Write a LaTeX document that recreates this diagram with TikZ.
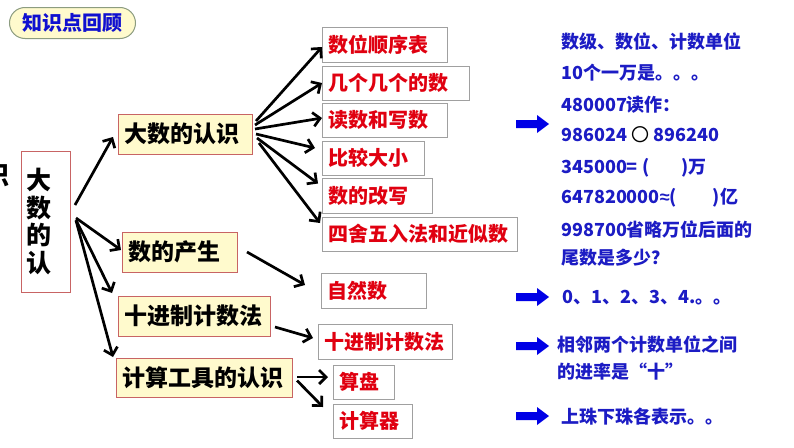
\documentclass[tikz,border=0pt]{standalone}
\usepackage{fontspec}
\setmainfont{Noto Sans CJK SC}[BoldFont={* Black}]
\newfontfamily\latfont{Liberation Sans}
\usetikzlibrary{arrows.meta}
\definecolor{cream}{HTML}{FFFACD}
\definecolor{boxred}{HTML}{C86464}
\definecolor{boxgray}{HTML}{A0A0A0}
\definecolor{redtxt}{HTML}{E00010}
\definecolor{bluetxt}{HTML}{1C1CC4}
\definecolor{arrowblue}{HTML}{0000E6}
\definecolor{titleblue}{HTML}{1010D0}
\definecolor{pillgray}{HTML}{8C9C80}
\tikzset{
  ybox/.style={draw=boxred, fill=cream, line width=0.8pt, text=black,
    font=\bfseries\fontsize{23}{25}\selectfont, inner xsep=6pt, inner ysep=0pt,
    outer sep=0pt, anchor=north west, align=left},
  rbox/.style={draw=boxgray, fill=white, line width=0.8pt, text=redtxt,
    font=\bfseries\fontsize{20}{22}\selectfont, inner xsep=6pt, inner ysep=0pt,
    outer sep=0pt, anchor=north west, align=left},
  arr/.style={line width=2.7pt, draw=black, -{Straight Barb[length=7pt,width=14pt,line width=2.7pt]}},
  btxt/.style={anchor=west, text=bluetxt, font=\bfseries\fontsize{18}{20}\selectfont, inner sep=0pt},
  blockarrow/.pic={\fill[arrowblue] (0,-4) -- (21,-4) -- (21,-9) -- (33,0) -- (21,9) -- (21,4) -- (0,4) -- cycle;}
}
\begin{document}
\begin{tikzpicture}[x=1pt,y=-1pt]
\useasboundingbox (0,0) rectangle (794,447);
\clip (0,0) rectangle (794,447);
\fill[white] (0,0) rectangle (794,447);

% title pill
\node[draw=pillgray, fill=cream, line width=1pt, rounded corners=15.5pt,
  minimum width=126pt, minimum height=31pt, anchor=north west, inner sep=0pt,
  text=titleblue, font=\bfseries\fontsize{20}{22}\selectfont] (title) at (9,7) {知识点回顾};

% clipped character at left edge
\node[font=\bfseries\fontsize{25}{27}\selectfont, inner sep=0pt] (cut) at (-3,175) {识};

% big vertical box
\node[draw=boxred, fill=white, line width=0.8pt, anchor=north west, outer sep=0pt,
  minimum height=141pt, text width=37pt, inner xsep=6pt, inner ysep=0pt, align=left,
  font=\bfseries\fontsize{25}{27.5}\selectfont] (big) at (21,151) {大\\数\\的\\认};

% yellow boxes
\node[ybox, text width=122pt, minimum height=40pt] (dsr) at (118,114) {大数的认识};
\node[ybox, text width=103pt, minimum height=40pt] (dcs) at (122,232) {数的产生};
\node[ybox, text width=140pt, minimum height=40pt] (sj) at (118,296) {十进制计数法};
\node[ybox, text width=164pt, minimum height=39pt] (js) at (116,358) {计算工具的认识};

% red boxes
\node[rbox, text width=113pt, minimum height=35pt] (r1) at (322,27) {数位顺序表};
\node[rbox, text width=135pt, minimum height=34pt] (r2) at (322,66) {几个几个的数};
\node[rbox, text width=113pt, minimum height=34pt] (r3) at (322,103) {读数和写数};
\node[rbox, text width=90pt, minimum height=34pt] (r4) at (322,141) {比较大小};
\node[rbox, text width=98pt, minimum height=35pt] (r5) at (322,178) {数的改写};
\node[rbox, text width=183pt, minimum height=34pt] (r6) at (322,217) {四舍五入法和近似数};
\node[rbox, text width=93pt, minimum height=35pt] (zrs) at (321,273) {自然数};
\node[rbox, text width=122pt, minimum height=35pt] (sjr) at (318,324) {十进制计数法};
\node[rbox, text width=49pt, minimum height=34pt] (sp) at (333,365) {算盘};
\node[rbox, text width=67pt, minimum height=34pt] (jsq) at (333,404) {计算器};

% arrows from big box
\draw[arr] ([xshift=5pt,yshift=16.5pt]big.east) -- ([xshift=-5pt,yshift=-3pt]dsr.west);
\draw[arr] ([xshift=6pt,yshift=3.5pt]big.east) -- ([xshift=-1pt,yshift=2pt]dcs.west);
\draw[arr] ([xshift=6pt,yshift=1.5pt]big.east) -- ([xshift=-6pt,yshift=3pt]sj.north west);
\draw[arr] ([xshift=6pt,yshift=1pt]big.east) -- ([xshift=-3pt,yshift=1pt]js.north west);

% arrows from 大数的认识
\draw[arr] ([xshift=4pt,yshift=13pt]dsr.east) -- ([yshift=-2.5pt]r1.west);
\draw[arr] ([xshift=3pt,yshift=9pt]dsr.east) -- (r2.west);
\draw[arr] ([xshift=3pt,yshift=5pt]dsr.east) -- ([yshift=2pt]r3.west);
\draw[arr] ([xshift=4pt,yshift=0pt]dsr.east) -- ([xshift=-7pt,yshift=10pt]r4.west);
\draw[arr] ([xshift=5pt,yshift=-4pt]dsr.east) -- ([xshift=-4pt,yshift=12pt]r5.west);
\draw[arr] ([xshift=7pt,yshift=-9pt]dsr.east) -- ([xshift=-2pt,yshift=11pt]r6.west);

% other arrows
\draw[arr] ([xshift=10pt]dcs.east) -- ([xshift=-16pt,yshift=-12pt]zrs.north west);
\draw[arr] ([xshift=5pt,yshift=-11pt]sj.east) -- ([xshift=-5pt,yshift=3.5pt]sjr.west);
\draw[arr] ([xshift=5pt,yshift=0.5pt]js.east) -- ([xshift=-5pt,yshift=5pt]sp.west);
\draw[arr] ([xshift=5pt,yshift=-3pt]js.east) -- ([xshift=-10pt,yshift=14pt]jsq.west);

% blue block arrows
\pic at (516,124) {blockarrow};
\pic at (516,297) {blockarrow};
\pic at (516,346) {blockarrow};
\pic at (516,416) {blockarrow};

% blue texts
\node[btxt] (t1) at (561,42) {数级、数位、计数单位};
\node[btxt] (t2) at (561,73) {10个一万是。。。};
\node[btxt] (t3) at (561,105) {480007读作：};
\node[btxt] (t4) at (561,135) {986024 {\color{black}\mdseries 〇} 896240};
\node[btxt] (t5) at (561,168) {345000= (\hspace{32pt})万};
\node[btxt] (t6) at (561,198) {647820000{\latfont\bfseries ≈}(\hspace{36pt})亿};
\node[btxt] (t7) at (561,230) {998700省略万位后面的};
\node[btxt] (t8) at (561,258) {尾数是多少？};
\node[btxt] (t9) at (562,298) {0、1、2、3、4.。。};
\node[btxt] (t10) at (557,345) {相邻两个计数单位之间};
\node[btxt] (t11) at (557,372) {的进率是“十”};
\node[btxt] (t12) at (561,417) {上珠下珠各表示。。};
\end{tikzpicture}
\end{document}
